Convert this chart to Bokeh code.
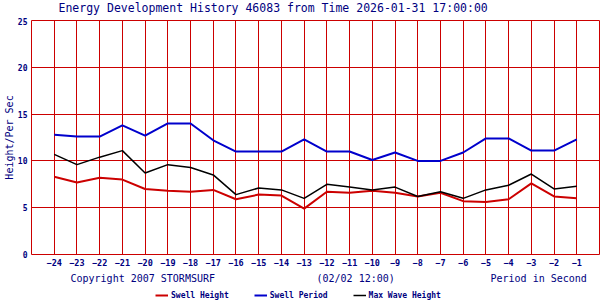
from bokeh.plotting import figure
from bokeh.models import Range1d, FixedTicker, Legend, LegendItem, Label
from bokeh.layouts import column
from bokeh.embed import file_html
from bokeh.resources import INLINE

# ---- data ----
periods = list(range(-24, 0))
swell_height = [8.3, 7.7, 8.2, 8.0, 7.0, 6.8, 6.7, 6.9, 5.9, 6.4, 6.3, 4.9,
                6.7, 6.6, 6.8, 6.6, 6.2, 6.6, 5.7, 5.6, 5.9, 7.6, 6.2, 6.0]
swell_period = [12.8, 12.6, 12.6, 13.8, 12.7, 14.0, 14.0, 12.2, 11.0, 11.0, 11.0, 12.3,
                11.0, 11.0, 10.1, 10.9, 10.0, 10.0, 10.9, 12.4, 12.4, 11.1, 11.1, 12.3]
max_wave = [10.7, 9.6, 10.4, 11.1, 8.7, 9.6, 9.3, 8.5, 6.4, 7.1, 6.9, 6.0,
            7.5, 7.2, 6.9, 7.2, 6.2, 6.7, 6.0, 6.9, 7.4, 8.6, 7.0, 7.3]
y_ticks = [0, 5, 10, 15, 20, 25]

series_names = ["Swell Height", "Swell Period", "Max Wave Height"]
series_colors = ["#cc0000", "#0000cc", "#000000"]
series_widths = [2, 2, 1.5]
series_values = [swell_height, swell_period, max_wave]

TITLE = "Energy Development History 46083 from Time 2026-01-31 17:00:00"
Y_LABEL = "Height/Per Sec"
FOOTER = ["Copyright 2007 STORMSURF", "(02/02 12:00)", "Period in Second"]

NAVY = "#000080"
GRID_RED = "#cc0000"
MONO = "DejaVu Sans Mono"

W = 600
FRAME_LEFT, FRAME_RIGHT_BORDER = 31, 1
H_HEAD, H_MAIN, H_FOOT = 17, 253, 30


def strip(height):
    # frames in a column are aligned with the main chart's frame,
    # so the x range is expressed in page pixels of that frame
    s = figure(width=W, height=height, toolbar_location=None, output_backend="svg",
               x_range=Range1d(FRAME_LEFT, W - FRAME_RIGHT_BORDER), y_range=Range1d(0, height),
               x_axis_location=None, y_axis_location=None,
               min_border=0, min_border_left=0, min_border_right=0,
               min_border_top=0, min_border_bottom=0)
    s.grid.visible = False
    s.outline_line_color = None
    s.background_fill_color = "white"
    s.border_fill_color = "white"
    return s


# ---------------- header strip (title) ----------------
h = strip(H_HEAD)
h.add_layout(Label(x=58, y=H_HEAD - 7.5, text=TITLE, text_font=MONO, text_font_size="11.5px",
                   text_color=NAVY, text_align="left", text_baseline="middle"))

# ---------------- main chart ----------------
p = figure(width=W, height=H_MAIN, title=None, toolbar_location=None, output_backend="svg",
           x_range=Range1d(-25, 0), y_range=Range1d(0, 25),
           min_border_left=FRAME_LEFT, min_border_right=FRAME_RIGHT_BORDER,
           min_border_top=3, min_border_bottom=16)
p.background_fill_color = "white"
p.border_fill_color = "white"
p.outline_line_color = GRID_RED
p.outline_line_width = 1

p.xaxis.ticker = FixedTicker(ticks=periods)
p.yaxis.ticker = FixedTicker(ticks=y_ticks)
p.xgrid.ticker = FixedTicker(ticks=periods)
p.ygrid.ticker = FixedTicker(ticks=y_ticks)
for g in (p.xgrid, p.ygrid):
    g.grid_line_color = GRID_RED
    g.grid_line_width = 1
    g.grid_line_alpha = 1.0

for ax in (p.xaxis, p.yaxis):
    ax.axis_line_color = None
    ax.major_tick_line_color = None
    ax.minor_tick_line_color = None
    ax.major_tick_out = 0
    ax.major_tick_in = 0
    ax.minor_tick_out = 0
    ax.minor_tick_in = 0
    ax.major_label_text_font = MONO
    ax.major_label_text_font_style = "bold"
    ax.major_label_text_color = NAVY
p.xaxis.major_label_text_font_size = "8.5px"
p.yaxis.major_label_text_font_size = "8px"
p.xaxis.major_label_standoff = 4
p.yaxis.major_label_standoff = 4

p.yaxis.axis_label = Y_LABEL
p.yaxis.axis_label_text_font = MONO
p.yaxis.axis_label_text_font_size = "10px"
p.yaxis.axis_label_text_font_style = "normal"
p.yaxis.axis_label_text_color = NAVY
p.yaxis.axis_label_standoff = 0

for vals, col, lw in zip(series_values, series_colors, series_widths):
    p.line(periods, vals, line_color=col, line_width=lw)

# ---------------- footer strip (texts + legend) ----------------
f = strip(H_FOOT)
foot_x = [70, 316, 490]
for txt, x in zip(FOOTER, foot_x):
    f.add_layout(Label(x=x, y=H_FOOT - 8, text=txt, text_font=MONO, text_font_size="10px",
                       text_color=NAVY, text_align="left", text_baseline="middle"))

# legend entries: the same series, drawn outside this strip's visible range
proxies = [f.line(periods, vals, line_color=c, line_width=lw)
           for vals, c, lw in zip(series_values, series_colors, series_widths)]
legend = Legend(items=[LegendItem(label=n, renderers=[r]) for n, r in zip(series_names, proxies)],
                orientation="horizontal", location=(155 - FRAME_LEFT, 0))
legend.label_text_font = MONO
legend.label_text_font_size = "8px"
legend.label_text_font_style = "bold"
legend.label_text_color = NAVY
legend.glyph_width = 13
legend.glyph_height = 8
legend.label_height = 10
legend.label_standoff = 3
legend.spacing = 25
legend.padding = 0
legend.margin = 0
legend.border_line_color = None
legend.background_fill_alpha = 0
f.add_layout(legend, "center")

layout = column(h, p, f, spacing=0)
open("out.html", "w").write(file_html(layout, INLINE))
